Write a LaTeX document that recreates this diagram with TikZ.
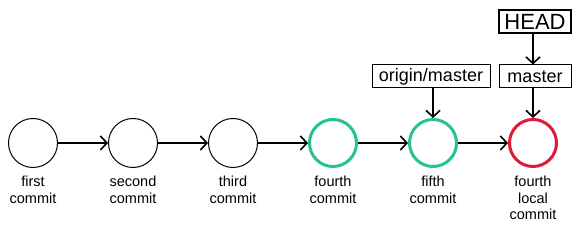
\documentclass[tikz,border=0pt]{standalone}
\usepackage{fontspec}
\setmainfont{Liberation Sans}
\usetikzlibrary{arrows.meta}
\definecolor{cgreen}{RGB}{38,196,133}
\definecolor{cred}{RGB}{224,24,60}
\begin{document}
\begin{tikzpicture}[x=1pt,y=-1pt,
  commit/.style={circle,draw,line width=1pt,minimum size=49pt,inner sep=0pt},
  gcommit/.style={commit,draw=cgreen,line width=3pt,minimum size=47pt},
  rcommit/.style={commit,draw=cred,line width=3pt,minimum size=47pt},
  clabel/.style={align=center,font=\fontsize{14.5}{16.5}\selectfont,anchor=north,inner sep=0pt},
  refbox/.style={draw,line width=1pt,font=\fontsize{18}{20}\selectfont,inner sep=0pt,minimum height=23pt},
  arr/.style={-{Straight Barb[length=6.5pt,width=14pt,line width=1.6pt]},line width=1.6pt}
]
\useasboundingbox (0,0) rectangle (576,232);
\node[commit]  (c1) at (33,143) {};
\node[commit]  (c2) at (133,143) {};
\node[commit]  (c3) at (233,143) {};
\node[gcommit] (c4) at (333,143) {};
\node[gcommit] (c5) at (433,143) {};
\node[rcommit] (c6) at (533,143) {};
\node[clabel] (l1) at (33,176) {first\\commit};
\node[clabel] (l2) at (133,176) {second\\commit};
\node[clabel] (l3) at (233,176) {third\\commit};
\node[clabel] (l4) at (333,176) {fourth\\commit};
\node[clabel] (l5) at (433,176) {fifth\\commit};
\node[clabel] (l6) at (533,176) {fourth\\local\\commit};
\draw[arr] (c1) -- (c2);
\draw[arr] (c2) -- (c3);
\draw[arr] (c3) -- (c4);
\draw[arr] (c4) -- (c5);
\draw[arr] (c5) -- (c6);
\node[refbox,minimum width=118pt] (om) at (431,76.5) {origin/master};
\node[refbox,minimum width=72pt] (ma) at (535,76.5) {master};
\node[refbox,line width=2pt,minimum width=72pt,font=\fontsize{22}{24}\selectfont] (hd) at (535,21.5) {HEAD};
\draw[arr] (om.south -| c5) -- (c5.north);
\draw[arr] (ma.south -| c6) -- (c6.north);
\draw[arr] (hd.south -| c6) -- (ma.north -| c6);
\end{tikzpicture}
\end{document}
